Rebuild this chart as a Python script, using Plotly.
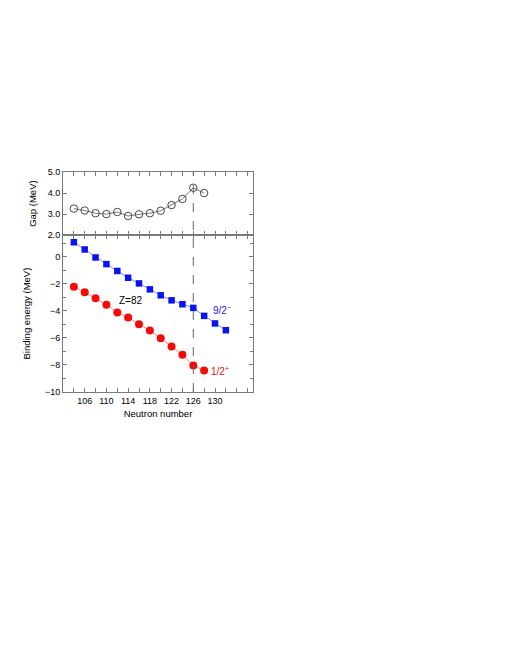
import plotly.graph_objects as go
from plotly.subplots import make_subplots

# neutron numbers
n_gap = [104, 106, 108, 110, 112, 114, 116, 118, 120, 122, 124, 126, 128]
gap = [3.26, 3.17, 3.04, 3.00, 3.10, 2.91, 2.99, 3.04, 3.16, 3.43, 3.72, 4.25, 4.00]

n_blue = [104, 106, 108, 110, 112, 114, 116, 118, 120, 122, 124, 126, 128, 130, 132]
be_blue = [1.08, 0.54, -0.05, -0.54, -1.05, -1.55, -1.97, -2.41, -2.85, -3.22,
           -3.51, -3.78, -4.37, -4.93, -5.43]

n_red = [104, 106, 108, 110, 112, 114, 116, 118, 120, 122, 124, 126, 128]
be_red = [-2.21, -2.63, -3.07, -3.54, -4.13, -4.50, -4.99, -5.46, -6.02, -6.64,
          -7.25, -8.04, -8.41]

x_labels = [106, 110, 114, 118, 122, 126, 130]

FONT = "Liberation Sans, Arial, sans-serif"
AXC = "#7a7a7a"

fig = make_subplots(rows=2, cols=1, shared_xaxes=True, vertical_spacing=0,
                    row_heights=[63, 156.5])

# gap panel
fig.add_trace(go.Scatter(x=n_gap, y=gap, mode="lines+markers",
                         line=dict(color="#555555", width=0.8),
                         marker=dict(symbol="circle-open", size=7.5,
                                     color="#333333", line=dict(width=0.9)),
                         showlegend=False), row=1, col=1)

# binding energies
fig.add_trace(go.Scatter(x=n_blue, y=be_blue, mode="lines+markers",
                         line=dict(color="#8888ff", width=1),
                         marker=dict(symbol="square", size=6.5, color="#0a14f0"),
                         showlegend=False), row=2, col=1)
fig.add_trace(go.Scatter(x=n_red, y=be_red, mode="lines+markers",
                         line=dict(color="#ff8888", width=1),
                         marker=dict(symbol="circle", size=8, color="#f50a0a"),
                         showlegend=False), row=2, col=1)

# N=126 shell closure
fig.add_shape(type="line", xref="x", yref="paper", x0=126, x1=126, y0=0, y1=1,
              line=dict(color="#666666", width=1, dash="dash"))

fig.add_annotation(x=114.6, y=-3.25, xref="x2", yref="y2", text="Z=82",
                   showarrow=False, font=dict(size=10, color="black"))
fig.add_annotation(x=131.2, y=-3.9, xref="x2", yref="y2", text="9/2<sup>−</sup>",
                   showarrow=False, font=dict(size=10, color="#1a1af0"))
fig.add_annotation(x=130.9, y=-8.45, xref="x2", yref="y2", text="1/2<sup>+</sup>",
                   showarrow=False, font=dict(size=10, color="#f01010"))

axis_common = dict(showline=True, linecolor=AXC, linewidth=1, mirror="allticks",
                   ticks="inside", ticklen=4, tickcolor=AXC, showgrid=False,
                   zeroline=False, tickfont=dict(size=9, color="black"))

fig.update_xaxes(range=[102, 137], tickvals=x_labels,
                 minor=dict(dtick=2, tick0=104, ticks="inside", ticklen=4,
                            tickcolor=AXC, showgrid=False),
                 **axis_common)
fig.update_xaxes(title=dict(text="Neutron number", font=dict(size=9.5), standoff=5),
                 row=2, col=1)

fig.update_yaxes(range=[2, 5], tickvals=[2, 3, 4, 5], tickformat=".1f",
                 title=dict(text="Gap (MeV)", font=dict(size=9.5), standoff=9),
                 row=1, col=1, **axis_common)
fig.update_yaxes(range=[-10, 1.6], tickvals=[-10, -8, -6, -4, -2, 0],
                 minor=dict(dtick=1, ticks="inside", ticklen=3, tickcolor=AXC,
                            showgrid=False),
                 title=dict(text="Binding energy (MeV)", font=dict(size=9.5), standoff=12),
                 row=2, col=1, **axis_common)

fig.update_layout(width=510, height=660, template="none",
                  paper_bgcolor="white", plot_bgcolor="white",
                  font=dict(family=FONT, size=9.5, color="black"),
                  margin=dict(l=55, r=265, t=164, b=276))

fig.write_html("out.html")
